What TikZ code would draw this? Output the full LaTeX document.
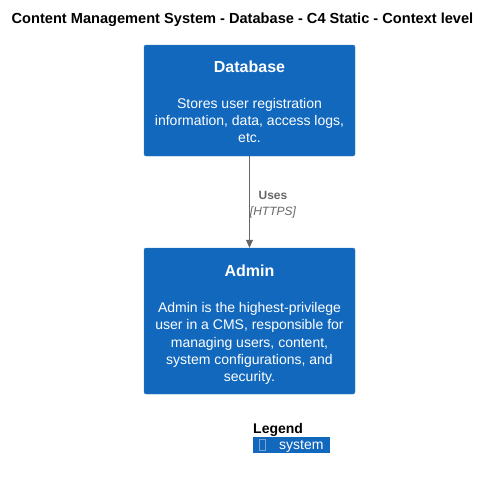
\documentclass[tikz,border=0pt]{standalone}
\usepackage{fontspec}
\setmainfont{Liberation Sans}
\usepackage{xcolor}
\usetikzlibrary{arrows.meta, positioning}

\definecolor{sysblue}{HTML}{1168BD}
\definecolor{sysborder}{HTML}{3C7FC0}
\definecolor{relgray}{HTML}{666666}

\begin{document}
\begin{tikzpicture}[
    x=1pt, y=1pt,
    sysbox/.style = {rectangle, draw=sysborder, fill=sysblue, rounded corners=2pt, minimum width=211pt, inner sep=0pt},
    systext/.style = {text=white, align=center, font=\fontsize{14}{17.2}\selectfont, inner sep=0pt},
    rel/.style = {-{Triangle[length=8pt, width=7pt]}, draw=relgray, line width=0.8pt},
    rellabel/.style = {text=relgray, align=center, font=\fontsize{12}{15.5}\selectfont, inner sep=0pt}
]

\useasboundingbox (0, 0) rectangle (491, -479);

\node [font=\fontsize{14.6}{17}\selectfont\bfseries] (title) at (242.5, -20) {Content Management System - Database - C4 Static - Context level};

\node [sysbox, minimum height=111pt] (db) at (249.5, -100.5) {};
\node [systext] (dbtext) at ([yshift=-1.5pt]db.center)
    {{\fontsize{16}{19}\selectfont\bfseries Database}\\[18pt]
     Stores user registration\\ information, data, access logs,\\ etc.};

\node [sysbox, minimum height=146pt] (admin) at (249.5, -321) {};
\node [systext] (admintext) at ([yshift=-3.5pt]admin.center)
    {{\fontsize{16}{19}\selectfont\bfseries Admin}\\[19.5pt]
     Admin is the highest-privilege\\ user in a CMS, responsible for\\ managing users, content,\\ system configurations, and\\ security.};

\draw [rel] (db) -- (admin);

\node [rellabel] (uses) at (273, -204.5)
    {{\bfseries Uses}\\ {\itshape [HTTPS]}};

% legend
\node [font=\fontsize{14}{17}\selectfont\bfseries, anchor=west, inner sep=0pt] (legend) at (253, -429.5) {Legend};
\node [rectangle, fill=sysblue, minimum width=77pt, minimum height=16pt, anchor=north west, inner sep=0pt] (legsys) at (253, -437) {};
\draw [sysborder!70!white, line width=0.5pt] (259.5, -439.5) rectangle (265.5, -450.5);
\node [text=white, font=\fontsize{14}{17}\selectfont, anchor=west, inner sep=0pt] (legtext) at (279, -446) {system};

\end{tikzpicture}
\end{document}
